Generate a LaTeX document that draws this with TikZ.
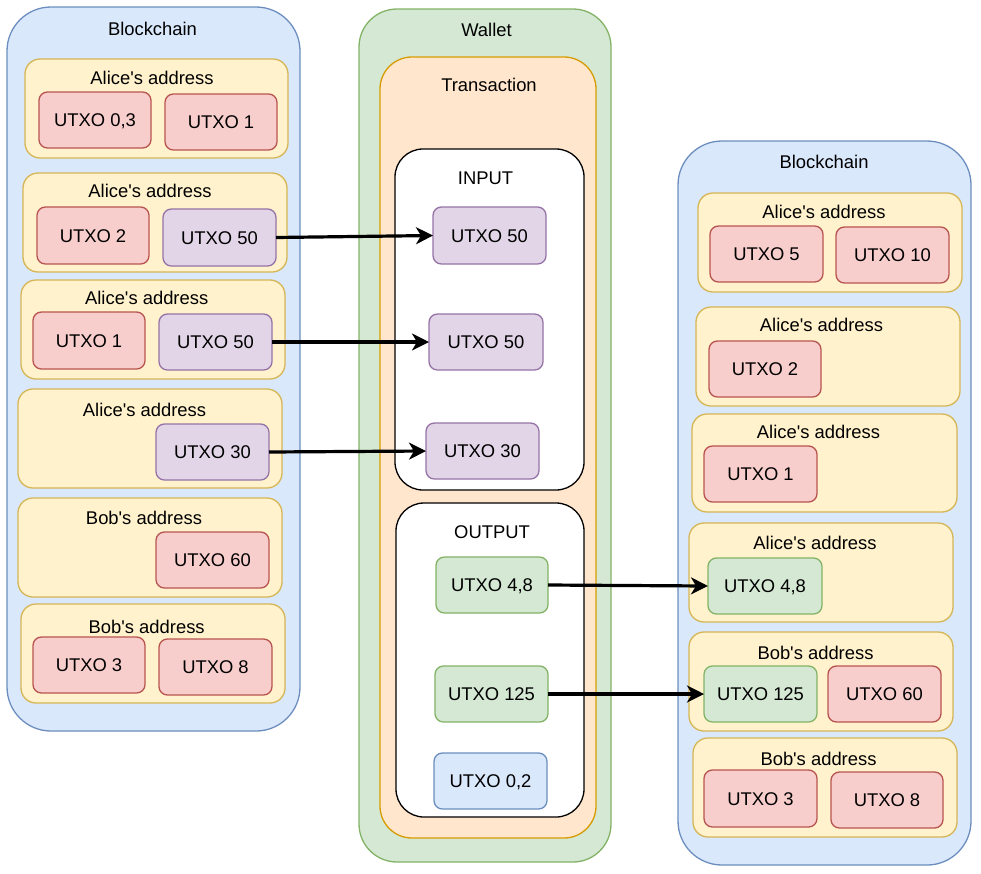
\documentclass[tikz,border=0pt]{standalone}
\usepackage{fontspec}
\setmainfont{Liberation Sans}
\usetikzlibrary{arrows.meta}
\definecolor{bluef}{HTML}{DAE8FC}\definecolor{blued}{HTML}{6C8EBF}
\definecolor{yelf}{HTML}{FFF2CC}\definecolor{yeld}{HTML}{D6B656}
\definecolor{redf}{HTML}{F8CECC}\definecolor{redd}{HTML}{B85450}
\definecolor{purf}{HTML}{E1D5E7}\definecolor{purd}{HTML}{9673A6}
\definecolor{grnf}{HTML}{D5E8D4}\definecolor{grnd}{HTML}{82B366}
\definecolor{orf}{HTML}{FFE6CC}\definecolor{ord}{HTML}{D79B00}
\newcommand\dfont{\fontsize{18.4pt}{22pt}\selectfont}
\newcommand\ap{\textquotesingle}
\newcommand\bx[7]{\node[#1, minimum width={(#5-#3)*1pt}, minimum height={(#6-#4)*1pt}] (#2) at ({(#3+#5)/2},{(#4+#6)/2}) {#7};}
\tikzset{
  shp/.style={draw, line width=1.3pt, inner sep=0pt, outer sep=0pt, font=\dfont, text height=13.2pt, text depth=0pt},
  chain/.style={shp, fill=bluef, draw=blued, rounded corners=44pt},
  wal/.style={shp, fill=grnf, draw=grnd, rounded corners=38pt},
  trans/.style={shp, fill=orf, draw=ord, rounded corners=32pt},
  iobox/.style={shp, fill=white, draw=black, rounded corners=28pt},
  addr/.style={shp, fill=yelf, draw=yeld, rounded corners=15pt},
  ured/.style={shp, fill=redf, draw=redd, rounded corners=8.4pt},
  upur/.style={shp, fill=purf, draw=purd, rounded corners=8.4pt},
  ugrn/.style={shp, fill=grnf, draw=grnd, rounded corners=8.4pt},
  ublu/.style={shp, fill=bluef, draw=blued, rounded corners=8.4pt},
  lbl/.style={inner sep=0pt, font=\dfont, text height=13.2pt, text depth=0pt},
  arr/.style={line width=3.2pt, -{Stealth[length=17pt,width=17pt,inset=5pt]}}
}
\begin{document}
\begin{tikzpicture}[x=1pt,y=-1pt]
\useasboundingbox (0,0) rectangle (981,873);
% left blockchain
\bx{chain}{lchain}{7}{7}{300}{731}{}
\node[lbl] (lchaint) at (152.5,29) {Blockchain};
\bx{addr}{la1}{25}{59}{288}{158}{}
\node[lbl] (la1t) at (152,77.5) {Alice\ap s address};
\bx{ured}{l1a}{39}{92}{151}{148}{UTXO 0,3}
\bx{ured}{l1b}{165}{94}{277}{150}{UTXO 1}
\bx{addr}{la2}{23}{173}{287}{272}{}
\node[lbl] (la2t) at (150,191) {Alice\ap s address};
\bx{ured}{l2a}{37}{207}{149}{264}{UTXO 2}
\bx{upur}{l2b}{163}{209}{276}{266}{UTXO 50}
\bx{addr}{la3}{21}{280}{285}{379}{}
\node[lbl] (la3t) at (146.7,298) {Alice\ap s address};
\bx{ured}{l3a}{33}{312}{145}{369}{UTXO 1}
\bx{upur}{l3b}{159}{314}{272}{370}{UTXO 50}
\bx{addr}{la4}{18}{389}{282}{488}{}
\node[lbl] (la4t) at (144.5,410) {Alice\ap s address};
\bx{upur}{l4a}{156}{424}{269}{480}{UTXO 30}
\bx{addr}{la5}{18}{498}{282}{597}{}
\node[lbl] (la5t) at (144,518) {Bob\ap s address};
\bx{ured}{l5a}{156}{532}{269}{588}{UTXO 60}
\bx{addr}{la6}{21}{604}{285}{703}{}
\node[lbl] (la6t) at (146.7,627) {Bob\ap s address};
\bx{ured}{l6a}{33}{637}{145}{693}{UTXO 3}
\bx{ured}{l6b}{159}{639}{272}{695}{UTXO 8}
% wallet
\bx{wal}{wallet}{359}{9}{611}{862}{}
\node[lbl] (wallett) at (486.5,29.5) {Wallet};
\bx{trans}{tx}{380}{57}{596}{838}{}
\node[lbl] (txt) at (489,84.5) {Transaction};
\bx{iobox}{inp}{395}{149}{584}{490}{}
\node[lbl] (inpt) at (485.5,177.5) {INPUT};
\bx{upur}{i1}{433}{207}{546}{264}{UTXO 50}
\bx{upur}{i2}{429}{314}{543}{370}{UTXO 50}
\bx{upur}{i3}{426}{423}{539}{479}{UTXO 30}
\bx{iobox}{outp}{396}{503}{584}{817}{}
\node[lbl] (outpt) at (492,532) {OUTPUT};
\bx{ugrn}{o1}{436}{557}{548}{613}{UTXO 4,8}
\bx{ugrn}{o2}{435}{666}{548}{722}{UTXO 125}
\bx{ublu}{o3}{434}{753}{547}{809}{UTXO 0,2}
% right blockchain
\bx{chain}{rchain}{678}{141}{971}{865}{}
\node[lbl] (rchaint) at (824,162) {Blockchain};
\bx{addr}{ra1}{698}{193}{962}{292}{}
\node[lbl] (ra1t) at (824,212) {Alice\ap s address};
\bx{ured}{r1a}{710}{226}{823}{282}{UTXO 5}
\bx{ured}{r1b}{836}{227}{949}{283}{UTXO 10}
\bx{addr}{ra2}{696}{307}{960}{406}{}
\node[lbl] (ra2t) at (821.5,325) {Alice\ap s address};
\bx{ured}{r2a}{709}{341}{821}{397}{UTXO 2}
\bx{addr}{ra3}{692}{414}{957}{512}{}
\node[lbl] (ra3t) at (818.5,432) {Alice\ap s address};
\bx{ured}{r3a}{704}{446}{817}{502}{UTXO 1}
\bx{addr}{ra4}{689}{523}{953}{622}{}
\node[lbl] (ra4t) at (815,543) {Alice\ap s address};
\bx{ugrn}{r4a}{708}{558}{822}{614}{UTXO 4,8}
\bx{addr}{ra5}{689}{632}{953}{731}{}
\node[lbl] (ra5t) at (815.5,653) {Bob\ap s address};
\bx{ugrn}{r5a}{704}{666}{817}{722}{UTXO 125}
\bx{ured}{r5b}{828}{666}{941}{722}{UTXO 60}
\bx{addr}{ra6}{693}{738}{957}{837}{}
\node[lbl] (ra6t) at (818.5,759) {Bob\ap s address};
\bx{ured}{r6a}{704}{770}{817}{827}{UTXO 3}
\bx{ured}{r6b}{831}{772}{943}{828}{UTXO 8}
% arrows
\draw[arr] (l2b.east) -- (i1.west);
\draw[arr] (l3b.east) -- (i2.west);
\draw[arr] (l4a.east) -- (i3.west);
\draw[arr] (o1.east) -- (r4a.west);
\draw[arr] (o2.east) -- (r5a.west);
\end{tikzpicture}
\end{document}
